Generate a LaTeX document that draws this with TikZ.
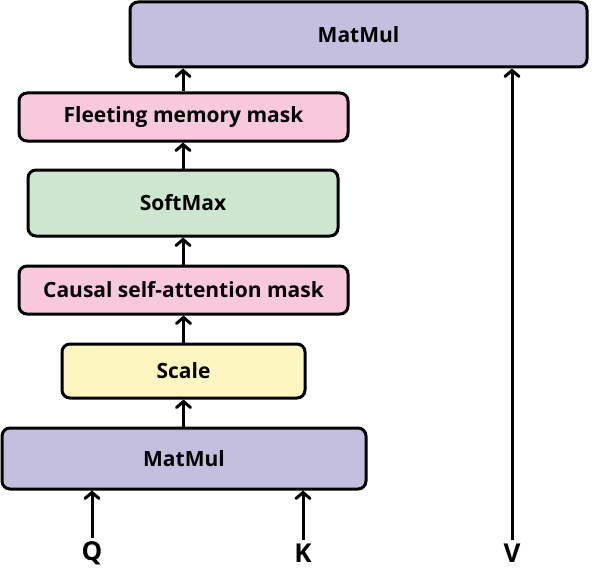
\documentclass[tikz,border=0pt]{standalone}
\usepackage{fontspec}
\setmainfont{Open Sans}
\usetikzlibrary{arrows.meta}

\definecolor{mmpurple}{HTML}{C4BEDF}
\definecolor{maskpink}{HTML}{F8C8DC}
\definecolor{smgreen}{HTML}{CDE6D0}
\definecolor{scyellow}{HTML}{FEF6C0}

\begin{document}
\begin{tikzpicture}[
    x=1pt,y=-1pt,
    every node/.style={font=\fontsize{21}{24}\selectfont\bfseries},
    box/.style={rectangle,draw,line width=3pt,rounded corners=8pt,inner sep=0pt,align=center},
    matmul/.style={box,fill=mmpurple},
    mask/.style={box,fill=maskpink,minimum width=329pt,minimum height=48pt},
    input/.style={font=\fontsize{26}{30}\selectfont\bfseries},
    flow/.style={line width=3pt,-{Straight Barb[length=6pt,width=14pt,line cap=round]}}
]
\useasboundingbox (0,0) rectangle (592,578);

% Blocks, bottom to top
\node[matmul,minimum width=364pt,minimum height=61pt] (matmul1) at (184,458.5) {MatMul};
\node[box,fill=scyellow,minimum width=243pt,minimum height=54pt] (scale) at (183.5,371) {Scale};
\node[mask] (causal) at (183.5,290) {Causal self-attention mask};
\node[box,fill=smgreen,minimum width=310pt,minimum height=66pt] (softmax) at (183,203) {SoftMax};
\node[mask] (fleeting) at (183.5,117) {Fleeting memory mask};
\node[matmul,minimum width=457pt,minimum height=65pt] (matmul2) at (358.5,34.5) {MatMul};

% Inputs
\node[input] (q) at (92,553) {Q};
\node[input] (k) at (303,553) {K};
\node[input] (v) at (512,553) {V};

% Connections
\draw[flow] (q.north) -- (q |- matmul1.south);
\draw[flow] (k.north) -- (k |- matmul1.south);
\draw[flow] (v.north) -- (v |- matmul2.south);
\draw[flow] (matmul1.north -| scale) -- (scale.south);
\draw[flow] (scale.north) -- (scale |- causal.south);
\draw[flow] (causal.north -| softmax) -- (softmax.south);
\draw[flow] (softmax.north) -- (softmax |- fleeting.south);
\draw[flow] (fleeting.north -| softmax) -- (softmax |- matmul2.south);

\end{tikzpicture}
\end{document}
